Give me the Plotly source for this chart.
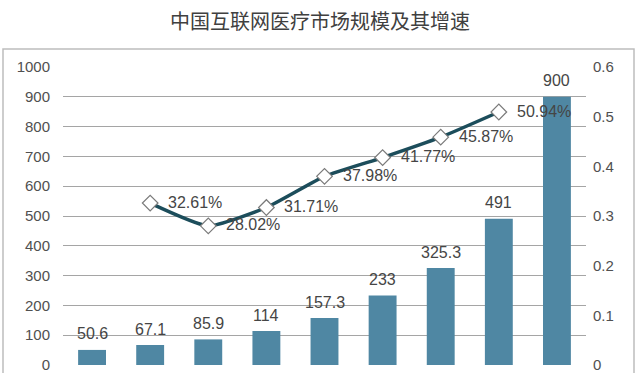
import plotly.graph_objects as go

categories = ["2011年", "2012年", "2013年", "2014年", "2015年", "2016年", "2017年", "2018年", "2019年"]
market_size = [50.6, 67.1, 85.9, 114, 157.3, 233, 325.3, 491, 900]
size_labels = ["50.6", "67.1", "85.9", "114", "157.3", "233", "325.3", "491", "900"]
growth_cats = ["2012年", "2013年", "2014年", "2015年", "2016年", "2017年", "2018年"]
growth_rate = [0.3261, 0.2802, 0.3171, 0.3798, 0.4177, 0.4587, 0.5094]
growth_labels = ["32.61%", "28.02%", "31.71%", "37.98%", "41.77%", "45.87%", "50.94%"]
left_ticks = [0, 100, 200, 300, 400, 500, 600, 700, 800, 900, 1000]
right_ticks = [0, 0.1, 0.2, 0.3, 0.4, 0.5, 0.6]
right_tick_text = ["0", "0.1", "0.2", "0.3", "0.4", "0.5", "0.6"]

num_font = "Liberation Sans, Arial, sans-serif"
cjk_font = "Noto Sans CJK SC, sans-serif"

fig = go.Figure()
fig.add_trace(go.Bar(
    x=categories, y=market_size,
    marker=dict(color="#4f87a3", line=dict(width=0)),
    width=0.48,
))
fig.add_trace(go.Scatter(
    x=growth_cats, y=growth_rate, yaxis="y2",
    mode="lines+markers",
    line=dict(color="#1c4d5b", width=3.5, shape="spline", smoothing=0.5),
    marker=dict(symbol="diamond", size=12, color="white", line=dict(color="#7a7a7a", width=1.2)),
))

annotations = []
for c, v, t in zip(categories, market_size, size_labels):
    annotations.append(dict(x=c, y=v, xref="x", yref="y", text=t, showarrow=False,
                            xanchor="center", yanchor="middle", yshift=16,
                            font=dict(family=num_font, size=16, color="#454545")))
for c, v, t in zip(growth_cats, growth_rate, growth_labels):
    annotations.append(dict(x=c, y=v, xref="x", yref="y2", text=t, showarrow=False,
                            xanchor="left", yanchor="middle", xshift=16, yshift=1,
                            font=dict(family=num_font, size=16, color="#454545")))

fig.update_layout(
    width=640, height=373,
    margin=dict(l=63, r=54, t=67, b=8),
    paper_bgcolor="white", plot_bgcolor="white",
    showlegend=False,
    font=dict(family=num_font, color="#454545"),
    title=dict(text="中国互联网医疗市场规模及其增速", x=0.5, xanchor="center", y=1 - 22 / 373, yanchor="middle",
               font=dict(size=20, color="#404040", family=cjk_font)),
    xaxis=dict(type="category", showticklabels=False, showgrid=False, zeroline=False, showline=False,
               ticks="", automargin=False),
    yaxis=dict(range=[0, 1000], tickvals=left_ticks, showgrid=True, gridcolor="#a5a5a5", gridwidth=1.2,
               zeroline=False, showline=False, ticks="", tickfont=dict(size=15, color="#505050"),
               ticklabelstandoff=12, ticklabeloverflow="allow", automargin=False),
    yaxis2=dict(range=[0, 0.6], tickvals=right_ticks, ticktext=right_tick_text, overlaying="y", side="right",
                showgrid=False, zeroline=False, showline=False, ticks="",
                tickfont=dict(size=15, color="#505050"), ticklabelstandoff=6,
                ticklabeloverflow="allow", automargin=False),
    annotations=annotations,
)

fig.add_shape(type="rect", xref="paper", yref="paper",
              x0=(3 - 63) / 523, x1=(634 - 63) / 523, y0=-0.2, y1=(365 - 49) / 298,
              line=dict(color="#bdbdbd", width=1.5), fillcolor="rgba(0,0,0,0)", layer="below")

fig.write_html("out.html", config={"displayModeBar": False},
               post_script="document.body.style.margin='0';document.body.style.overflow='hidden';")
